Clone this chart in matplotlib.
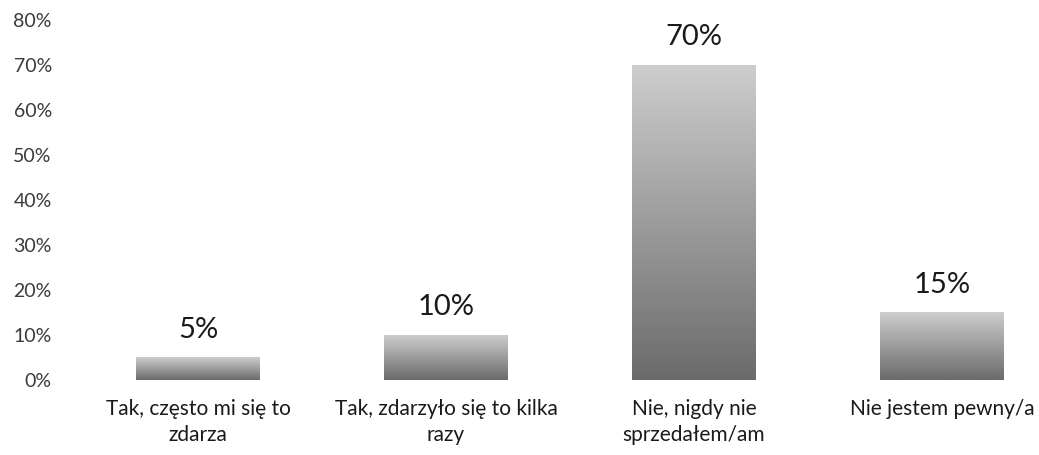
import matplotlib
matplotlib.use("Agg")
import matplotlib.pyplot as plt
import numpy as np

plt.rcParams['font.family'] = ['Lato', 'DejaVu Sans']

categories = ["Tak, często mi się to\nzdarza",
              "Tak, zdarzyło się to kilka\nrazy",
              "Nie, nigdy nie\nsprzedałem/am",
              "Nie jestem pewny/a"]
values = [5, 10, 70, 15]
yticks = [0, 10, 20, 30, 40, 50, 60, 70, 80]

fig = plt.figure(figsize=(10.39, 4.55), dpi=100)
ax = fig.add_axes([74 / 1039, 75 / 455, (1066 - 74) / 1039, 360 / 455])

x = np.arange(len(values))
width = 0.5
bars = ax.bar(x, values, width=width, color='none', edgecolor='none')

# vertical grey gradient inside each bar, darker at the bottom
grad = np.linspace(0.42, 0.8, 64).reshape(-1, 1)
for b in bars:
    x0 = b.get_x()
    h = b.get_height()
    ax.imshow(grad, cmap='gray', vmin=0, vmax=1, aspect='auto', origin='lower',
              extent=(x0, x0 + b.get_width(), 0, h), interpolation='bilinear')

for xi, v in zip(x, values):
    ax.text(xi, v + 4.4, f"{v}%", ha='center', va='baseline', fontsize=21, color='#1a1a1a')

ax.set_xlim(-0.5, 3.5)
ax.set_ylim(0, 80)
ax.set_yticks(yticks)
ax.set_yticklabels([f"{t}%" for t in yticks], fontsize=14, color='#3a3a3a')
ax.set_xticks(x)
ax.set_xticklabels(categories, fontsize=15, color='#1a1a1a', linespacing=1.35)
ax.tick_params(axis='both', length=0)
ax.tick_params(axis='y', pad=16)
ax.tick_params(axis='x', pad=14)
for s in ax.spines.values():
    s.set_visible(False)

fig.savefig("out.png", dpi=100)
